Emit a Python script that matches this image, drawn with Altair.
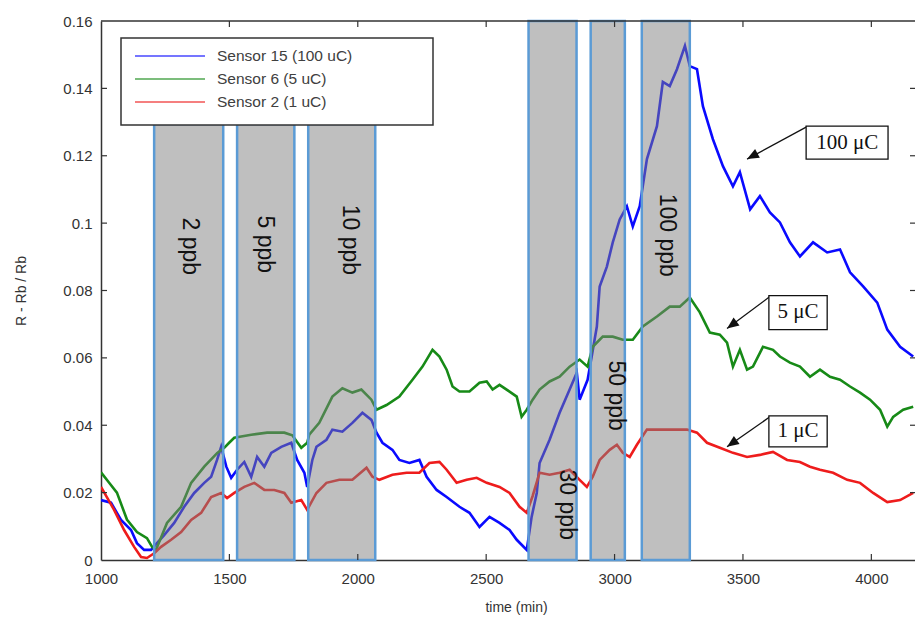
import altair as alt
import pandas as pd

# ---------------- data ----------------
series_names = ["Sensor 15 (100 uC)", "Sensor 6 (5 uC)", "Sensor 2 (1 uC)"]
series_colors = ["#0a0aff", "#178a17", "#ee1c1c"]

blue_t = [1000,1039,1078,1117,1140,1168,1195,1218,1246,1285, 1324,1363,1402,1429,1452,1468,1488,1507,1530,1558,
          1585,1608,1636,1663,1702,1741,1764,1792,1803,1823, 1839,1878,1901,1940,1979,2018,2053,2073,2096,2135,
          2162,2201,2240,2268,2307,2346,2396,2435,2474,2513, 2552,2591,2619,2658,2677,2697,2708,2747,2786,2825,
          2853,2864,2895,2911,2931,2942,2970,2993,3020,3048, 3071,3098,3126,3165,3188,3215,3243,3274,3293,3321,
          3344,3383,3422,3461,3488,3528,3566,3605,3644,3683, 3722,3773,3828,3878,3917,3968,4023,4062,4112,4163]
blue_v = [0.0178,0.017,0.0119,0.0089,0.005,0.003,0.003,0.005,0.0074,0.011, 0.0158,0.0199,0.0229,0.0247,0.0297,0.0336,0.0277,0.0244,0.0268,0.0291,
          0.0247,0.0306,0.0277,0.0318,0.0336,0.0348,0.0297,0.0259,0.0217,0.0297, 0.0336,0.0357,0.0387,0.0381,0.0407,0.0437,0.0416,0.0378,0.0348,0.0327,
          0.0297,0.0288,0.0297,0.0247,0.0208,0.0187,0.0158,0.014,0.0098,0.0128, 0.011,0.0089,0.006,0.003,0.0128,0.0199,0.0288,0.0357,0.0437,0.0506,
          0.0556,0.0476,0.0535,0.0604,0.0693,0.0812,0.0871,0.0943,0.1011,0.105, 0.099,0.105,0.119,0.1288,0.1419,0.1407,0.1457,0.1526,0.1466,0.1457,
          0.1347,0.1249,0.1169,0.1109,0.1151,0.1041,0.108,0.1032,0.1002,0.0943, 0.0901,0.0943,0.0913,0.0922,0.0854,0.0812,0.0764,0.0684,0.0633,0.0604]

green_t = [1000,1031,1062,1101,1140,1179,1199,1214,1257,1312, 1351,1402,1453,1480,1499,1519,1585,1647,1714,1745,
           1780,1803,1811,1850,1901,1940,1979,2014,2053,2073, 2112,2162,2213,2252,2291,2318,2346,2369,2396,2435,
           2474,2502,2525,2552,2591,2619,2638,2658,2681,2708, 2747,2786,2825,2864,2895,2915,2954,2993,3032,3071,
           3110,3165,3215,3254,3293,3332,3371,3410,3438,3461, 3488,3516,3539,3578,3617,3644,3683,3722,3761,3800,
           3839,3878,3917,3956,3995,4034,4062,4085,4124,4163]
green_v = [0.026,0.023,0.020,0.012,0.0083,0.0065,0.0039,0.003,0.011,0.0158, 0.0229,0.0277,0.0318,0.0333,0.0348,0.0363,0.0372,0.0378,0.0378,0.037,
           0.0333,0.0348,0.0372,0.0407,0.0485,0.051,0.0497,0.0506,0.0476,0.0446, 0.046,0.0485,0.0535,0.0574,0.0624,0.0604,0.0565,0.0515,0.05,0.05,
           0.0526,0.053,0.0506,0.052,0.05,0.0485,0.0425,0.0446,0.0476,0.0506, 0.053,0.0544,0.0574,0.0595,0.0574,0.0633,0.0663,0.0663,0.0654,0.0654,
           0.0693,0.0723,0.0752,0.0752,0.0779,0.0735,0.0675,0.0669,0.0645,0.0574, 0.0624,0.0565,0.0574,0.0633,0.0624,0.0604,0.0586,0.0574,0.0544,0.0565,
           0.0544,0.0535,0.0515,0.0497,0.0476,0.0446,0.0396,0.0425,0.0446,0.0455]

red_t = [1000,1051,1090,1129,1156,1179,1207,1234,1273,1312, 1351,1390,1429,1468,1491,1519,1558,1597,1636,1675,
         1714,1741,1780,1803,1839,1878,1928,1979,2034,2057, 2084,2135,2190,2240,2279,2318,2346,2385,2424,2463,
         2502,2552,2591,2630,2658,2681,2708,2747,2786,2825, 2864,2892,2915,2942,2981,3009,3032,3059,3087,3126,
         3176,3227,3282,3321,3360,3410,3461,3516,3566,3617, 3672,3722,3761,3800,3851,3906,3956,4007,4062,4112,
         4163]
red_v = [0.0217,0.0149,0.0089,0.0039,0.0009,0.0006,0.002,0.0039,0.006,0.0083, 0.0119,0.014,0.0187,0.0199,0.0184,0.0199,0.0217,0.0229,0.0208,0.0208,
         0.0199,0.017,0.0178,0.0149,0.0199,0.0229,0.0238,0.0238,0.0274,0.0247, 0.0238,0.0253,0.0259,0.0259,0.0288,0.0291,0.0268,0.0229,0.0238,0.0244,
         0.0229,0.0217,0.0199,0.0158,0.014,0.019,0.0259,0.0253,0.0259,0.0268, 0.0238,0.0217,0.0247,0.0297,0.0327,0.0342,0.0318,0.0306,0.0342,0.0387,
         0.0387,0.0387,0.0387,0.0378,0.0348,0.0333,0.0318,0.0306,0.0312,0.0321, 0.0297,0.0291,0.0277,0.0268,0.0259,0.0238,0.0229,0.0199,0.0172,0.0178,
         0.0199]

# exposure windows
box_labels = ["2 ppb", "5 ppb", "10 ppb", "30 ppb", "50 ppb", "100 ppb"]
box_start = [1207, 1530, 1807, 2665, 2907, 3106]
box_end = [1476, 1753, 2068, 2852, 3040, 3293]
box_top = [0.1294, 0.1294, 0.1294, 0.16, 0.16, 0.16]
label_t = [1346, 1638, 1968, 2816, 3006, 3204]
label_v = [0.0931, 0.0937, 0.095, 0.0164, 0.0488, 0.0964]

# annotations
ann_text = ["100 \u03bcC", "5 \u03bcC", "1 \u03bcC"]
ann_x1 = [3746, 3601, 3601]
ann_x2 = [4065, 3828, 3828]
ann_y1 = [0.1288, 0.0785, 0.0428]
ann_y2 = [0.119, 0.0684, 0.0336]
ann_tx = [3906, 3714, 3714]
ann_ty = [0.1237, 0.0735, 0.0384]
arrow_from_t = [3746, 3605, 3605]
arrow_from_v = [0.1285, 0.0782, 0.0425]
arrow_to_t = [3516, 3438, 3438]
arrow_to_v = [0.119, 0.0687, 0.0336]
arrow_angle = [241.5, 233.3, 235.0]

x_ticks = [1000, 1500, 2000, 2500, 3000, 3500, 4000]
y_ticks = [0, 0.02, 0.04, 0.06, 0.08, 0.1, 0.12, 0.14, 0.16]

# ---------------- build ----------------
W, H = 814, 539
frames = []
for name, tt, vv in [(series_names[0], blue_t, blue_v),
                     (series_names[1], green_t, green_v),
                     (series_names[2], red_t, red_v)]:
    frames.append(pd.DataFrame({"t": tt, "v": vv, "series": name}))
df = pd.concat(frames, ignore_index=True)

boxes = pd.DataFrame({"label": box_labels, "start": box_start, "end": box_end,
                      "top": box_top, "bottom": 0.0, "lt": label_t, "lv": label_v})
ann = pd.DataFrame({"text": ann_text, "x1": ann_x1, "x2": ann_x2, "y1": ann_y1, "y2": ann_y2,
                    "tx": ann_tx, "ty": ann_ty, "ft": arrow_from_t, "fv": arrow_from_v,
                    "tt": arrow_to_t, "tv": arrow_to_v, "ang": arrow_angle})

xs = alt.Scale(domain=[1000, 4170], nice=False, zero=False)
ys = alt.Scale(domain=[0, 0.16], nice=False)

AXC = "#333333"
FONT = "Liberation Sans"

x_axis = alt.Axis(values=x_ticks, format="d", title="time (min)", labelFlush=False,
                  ticks=False, labelPadding=11, domainWidth=1.5,
                  titleY=47, titleBaseline="middle", titleX=W / 2 + 8)
y_axis = alt.Axis(values=y_ticks, format=".2~f", title="R - Rb / Rb", labelFlush=False,
                  ticks=False, labelPadding=9, domainWidth=1.5,
                  titleX=-80, titleY=H / 2, titleAngle=-90,
                  titleAlign="center", titleBaseline="middle")


def X(f):
    return alt.X(f, scale=xs, axis=x_axis)


def Y(f):
    return alt.Y(f, scale=ys, axis=y_axis)


lines = alt.Chart(df).mark_line(strokeWidth=2.6, clip=True).encode(
    x=X("t:Q"), y=Y("v:Q"),
    color=alt.Color("series:N", scale=alt.Scale(domain=series_names, range=series_colors), legend=None),
    order=alt.Order("t:Q"),
)

rects = alt.Chart(boxes).mark_rect(fill="#808080", fillOpacity=0.5, stroke="#5b9bd5",
                                   strokeWidth=2.5, strokeOpacity=1).encode(
    x=X("start:Q"), x2="end:Q", y=Y("bottom:Q"), y2="top:Q",
)

box_text = alt.Chart(boxes).mark_text(angle=90, font=FONT, fontSize=23, color="#111111",
                                      align="center", baseline="middle").encode(
    x=X("lt:Q"), y=Y("lv:Q"), text="label:N")

arrow_line = alt.Chart(ann).mark_rule(color="#111111", strokeWidth=1.3).encode(
    x=X("ft:Q"), x2="tt:Q", y=Y("fv:Q"), y2="tv:Q")

arrow_head = alt.Chart(ann).mark_point(shape="M0,0L-0.42,1L0.42,1Z", filled=True, size=560,
                                       color="#111111", opacity=1).encode(
    x=X("tt:Q"), y=Y("tv:Q"), angle=alt.Angle("ang:Q", scale=None))

ann_box = alt.Chart(ann).mark_rect(fill="white", stroke="#111111", strokeWidth=1.3).encode(
    x=X("x1:Q"), x2="x2:Q", y=Y("y1:Q"), y2="y2:Q")

ann_txt = alt.Chart(ann).mark_text(font="Liberation Serif", fontSize=21, color="#111111",
                                   align="center", baseline="middle").encode(
    x=X("tx:Q"), y=Y("ty:Q"), text="text:N")

# manual legend box (MATLAB style)
one = pd.DataFrame({"a": [0]})
legend_layers = [alt.Chart(one).mark_rect(fill="white", stroke="#333333", strokeWidth=1.5).encode(
    x=alt.value(20), x2=alt.value(332), y=alt.value(17), y2=alt.value(104))]
for i, (name, col) in enumerate(zip(series_names, series_colors)):
    yy = 35 + 23 * i
    legend_layers.append(alt.Chart(one).mark_rule(color=col, strokeWidth=1.5, opacity=0.75).encode(
        x=alt.value(34), x2=alt.value(104), y=alt.value(yy)))
    legend_layers.append(alt.Chart(one).mark_text(text=name, font=FONT, fontSize=15.5, color="#404040",
                                                  align="left", baseline="middle").encode(
        x=alt.value(116), y=alt.value(yy)))

# inward ticks and top frame
xt = pd.DataFrame({"t": x_ticks[1:]})
yt = pd.DataFrame({"v": y_ticks[1:-1]})
tick_layers = [
    alt.Chart(xt).mark_rule(color=AXC, strokeWidth=1.2).encode(
        x=X("t:Q"), y=alt.value(H), y2=alt.value(H - 6)),
    alt.Chart(xt).mark_rule(color=AXC, strokeWidth=1.2).encode(
        x=X("t:Q"), y=alt.value(0), y2=alt.value(6)),
    alt.Chart(yt).mark_rule(color=AXC, strokeWidth=1.2).encode(
        y=Y("v:Q"), x=alt.value(0), x2=alt.value(6)),
    alt.Chart(yt).mark_rule(color=AXC, strokeWidth=1.2).encode(
        y=Y("v:Q"), x=alt.value(W - 5), x2=alt.value(W)),
    alt.Chart(one).mark_rule(color=AXC, strokeWidth=1.5).encode(
        x=alt.value(0), x2=alt.value(W), y=alt.value(0)),
]

chart = alt.layer(lines, rects, box_text, arrow_line, arrow_head, ann_box, ann_txt,
                  *legend_layers, *tick_layers).properties(
    width=W, height=H,
    autosize=alt.AutoSizeParams(type="none"),
    padding={"left": 101, "top": 21, "right": 0, "bottom": 58},
    background="white",
).configure_view(stroke=None).configure_axis(
    domainColor=AXC, labelFont=FONT, labelFontSize=15, labelColor="#333333",
    titleFont=FONT, titleFontSize=14, titleColor="#333333", titleFontWeight="normal", grid=False,
)

chart.save("out.html", embed_options={"renderer": "svg", "actions": False})
